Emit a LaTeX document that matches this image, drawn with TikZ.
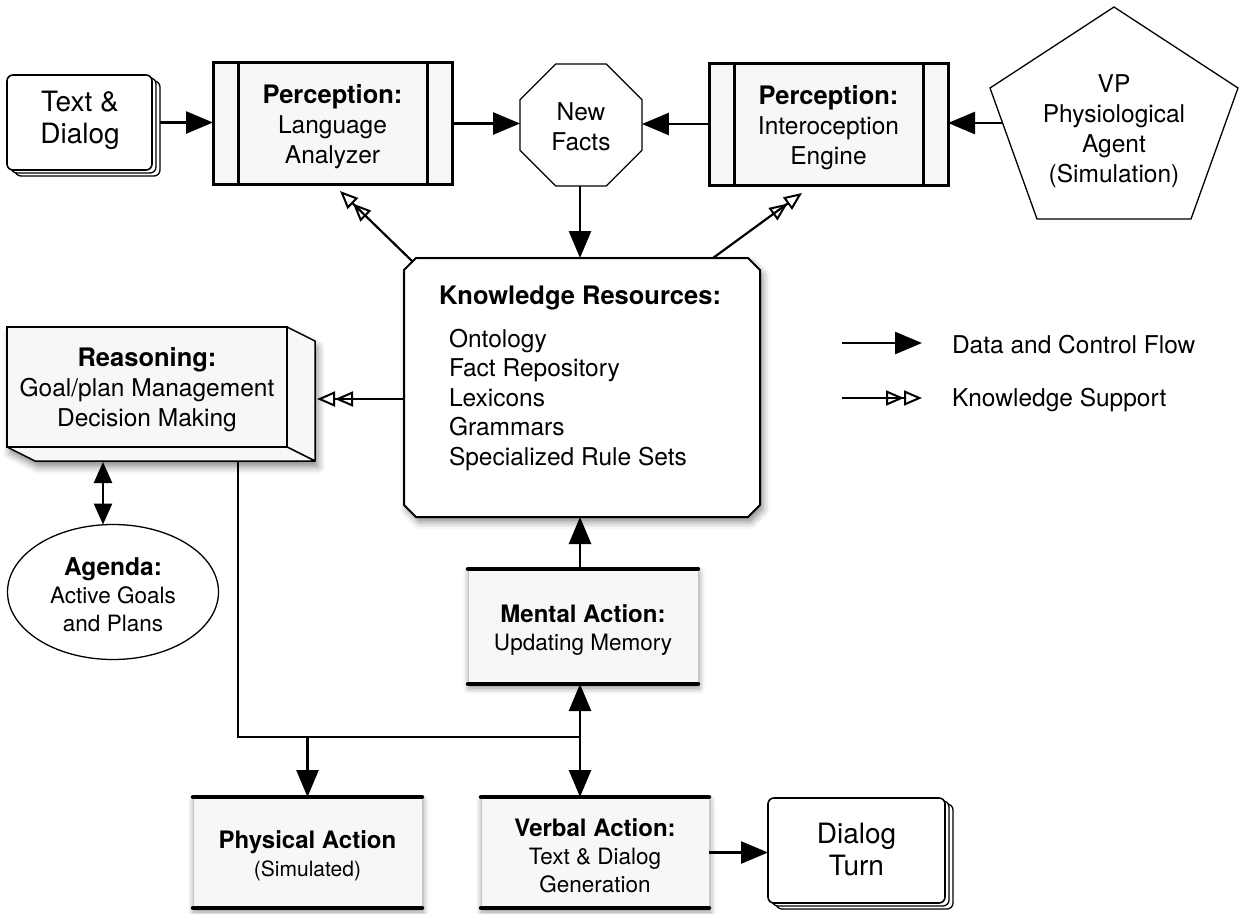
\documentclass[tikz,border=0pt]{standalone}
\usepackage{fontspec}
\setmainfont{TeX Gyre Heros}
\usetikzlibrary{arrows.meta,shapes.geometric,shadows,shadows.blur,calc}
\definecolor{boxfill}{HTML}{F6F7F7}
\newcommand\boldhead[2][25.5]{{\fontsize{#1}{30}\selectfont\bfseries #2}}
\tikzset{
  every node/.style={inner sep=0pt, outer sep=0pt},
  bigtxt/.style={font=\fontsize{28}{32}\selectfont, align=center},
  txt/.style={font=\fontsize{24.5}{30}\selectfont, align=center},
  smalltxt/.style={font=\fontsize{22.5}{28}\selectfont, align=center},
  conn/.style={line width=2.6pt, draw=black},
  solidtip/.style={Triangle[length=27pt,width=22pt,fill=black,color=black]},
  flow/.style={conn, -{Triangle[length=27pt,width=22pt,fill=black,color=black]}},
  flowboth/.style={conn, {Triangle[length=27pt,width=22pt,fill=black,color=black]}-{Triangle[length=27pt,width=22pt,fill=black,color=black]}},
  flowsmall/.style={conn, {Triangle[length=21pt,width=18pt,fill=black,color=black]}-{Triangle[length=21pt,width=18pt,fill=black,color=black]}},
  ksupport/.style={line width=2.2pt, draw=black,
    -{Triangle[open,length=18pt,width=15pt,line width=2pt]Triangle[open,length=18pt,width=15pt,line width=2pt]}},
  stackbox/.style={draw, line width=1.6pt, fill=white, rounded corners=6pt,
    double copy shadow={shadow xshift=4pt, shadow yshift=-3pt, draw, line width=1.3pt, fill=white}, bigtxt},
  procbox/.style={draw, line width=3pt, fill=boxfill, minimum width=239pt, minimum height=122pt, txt,
    path picture={
      \draw[line width=3pt] ([xshift=25pt]path picture bounding box.north west) -- ([xshift=25pt]path picture bounding box.south west);
      \draw[line width=3pt] ([xshift=-25pt]path picture bounding box.north east) -- ([xshift=-25pt]path picture bounding box.south east);}},
  actbox/.style={draw=gray!45, line width=0.8pt, fill=boxfill, smalltxt,
    blur shadow={shadow xshift=1pt, shadow yshift=-4pt, shadow blur radius=6pt, shadow opacity=45}},
  thinshape/.style={draw=black, line width=1.3pt, fill=white, txt},
}
\begin{document}
\begin{tikzpicture}[x=1pt,y=-1pt]
\useasboundingbox (0,0) rectangle (1239,913);

% ---------- top row ----------
\node[stackbox, minimum width=145pt, minimum height=95pt] (td) at (79.5,122.5) {};
\node[bigtxt] (tdtext) at (80,120) {Text \&\\Dialog};
\node[procbox] (la) at (332.5,123.5) {};
\node[txt] (latext) at (332.5,127) {\boldhead{Perception:}\\Language\\Analyzer};
\node[thinshape, regular polygon, regular polygon sides=8, minimum size=132pt] (nf) at (581,125) {};
\node[txt] (nftext) at (581,127) {New\\Facts};
\node[procbox] (ie) at (828.5,124) {};
\node[txt] (ietext) at (828.5,127.5) {\boldhead{Perception:}\\Interoception\\Engine};

% physiological agent (pentagon)
\draw[line width=1.3pt, fill=white] (1114,7) -- (1238,88) -- (1191,219) -- (1037,219) -- (990,88) -- cycle;
\node[txt] (vp) at (1114,131) {VP\\Physiological\\Agent\\(Simulation)};
\coordinate (vpin) at (1002,123);

% ---------- knowledge resources ----------
\node[minimum width=356pt, minimum height=259pt] (kr) at (582,387.5) {};
\draw[line width=2pt, fill=white,
      blur shadow={shadow xshift=3pt, shadow yshift=-5pt, shadow blur radius=7pt, shadow opacity=45}]
  ([xshift=12pt]kr.north west) -- ([xshift=-12pt]kr.north east) -- ([yshift=-12pt]kr.north east)
  -- ([yshift=12pt]kr.south east) -- ([xshift=-12pt]kr.south east) -- ([xshift=12pt]kr.south west)
  -- ([yshift=12pt]kr.south west) -- ([yshift=-12pt]kr.north west) -- cycle;
\node[font=\fontsize{25.5}{30}\selectfont\bfseries] (krtitle) at (580,298) {Knowledge Resources:};
\node[font=\fontsize{24.5}{29.5}\selectfont, align=left, anchor=west] (krlist) at (449,400)
  {Ontology\\Fact Repository\\Lexicons\\Grammars\\Specialized Rule Sets};

% ---------- reasoning (3-D box) ----------
\path[fill=white, blur shadow={shadow xshift=3pt, shadow yshift=-6pt, shadow blur radius=7pt, shadow opacity=45}]
  (7,327) -- (287,327) -- (315,341) -- (315,461) -- (35,461) -- (7,447) -- cycle;
\node[draw, line width=1.5pt, fill=boxfill, minimum width=280pt, minimum height=120pt] (reason) at (147,387) {};
\node[txt] (reasontext) at (147,390) {\boldhead{Reasoning:}\\Goal/plan Management\\Decision Making};
\draw[line width=1.5pt, fill=boxfill, line join=round]
  (reason.north east) -- ($(reason.north east)+(28,14)$) -- ($(reason.south east)+(28,14)$) -- (reason.south east) -- cycle;
\draw[line width=1.5pt, fill=boxfill, line join=round]
  (reason.south west) -- ($(reason.south west)+(28,14)$) -- ($(reason.south east)+(28,14)$) -- (reason.south east) -- cycle;
\coordinate (rside) at (317,399);
\coordinate (rbot) at (238,461);
\coordinate (ragenda) at (103,462);

% ---------- agenda ----------
\node[thinshape, ellipse, minimum width=211pt, minimum height=135pt] (agenda) at (113,592) {};
\node[smalltxt] (agendatext) at (113,595) {\boldhead[24.5]{Agenda:}\\Active Goals\\and Plans};

% ---------- actions ----------
\node[actbox, minimum width=230pt, minimum height=115pt] (mental) at (583,626.5) {};
\node[smalltxt] (mentaltext) at (583,630) {\boldhead[24]{Mental Action:}\\Updating Memory};
\node[actbox, minimum width=229pt, minimum height=111pt] (phys) at (307.5,852.5) {};
\node[smalltxt] (phystext) at (307.5,856) {\boldhead[24]{Physical Action}\\{\fontsize{21}{26}\selectfont (Simulated)}};
\node[actbox, minimum width=228pt, minimum height=111pt] (verbal) at (595,852.5) {};
\node[smalltxt] (verbaltext) at (595,856) {\boldhead[24]{Verbal Action:}\\Text \& Dialog\\Generation};
\foreach \n in {mental,phys,verbal}
  \draw[line width=4.5pt, line cap=round] (\n.north west) -- (\n.north east) (\n.south west) -- (\n.south east);
\node[stackbox, minimum width=177pt, minimum height=105pt] (dt) at (856.5,850.5) {};
\node[bigtxt] (dttext) at (856.5,849) {Dialog\\Turn};
\coordinate (jn) at (580,737);

% ---------- legend ----------
\coordinate (lga) at (842,343);
\coordinate (lgb) at (922,343);
\coordinate (lgc) at (842,398);
\coordinate (lgd) at (922,398);
\node[txt, anchor=west] (lgflow) at (952,345) {Data and Control Flow};
\node[txt, anchor=west] (lgks) at (952,400) {Knowledge Support};

% ---------- data and control flow ----------
\draw[flow] ([xshift=8pt]td.east) -- (td.east -| la.west);
\draw[flow] (la.east) -- (la.east -| nf.west);
\draw[flow] (ie.west) -- (ie.west -| nf.east);
\draw[flow] (vpin) -- (vpin -| ie.east);
\draw[flow] (nf.south -| jn) -- (jn |- kr.north);
\draw[flow] (jn |- mental.north) -- (jn |- kr.south);
\draw[flowboth] (jn |- mental.south) -- (jn |- verbal.north);
\draw[conn] (rbot) |- (jn);
\draw[flow] (phys.north |- jn) -- (phys.north);
\draw[flow] (verbal.east) -- (verbal.east -| dt.west);
\draw[flowsmall] (ragenda) -- (ragenda |- agenda.north);
\draw[flow] (lga) -- (lgb);

% ---------- knowledge support ----------
\coordinate (kra) at (413,262);
\coordinate (lak) at (340,191);
\coordinate (krb) at (713,258);
\coordinate (iek) at (802,193);
\draw[ksupport] (kra) -- (lak);
\draw[ksupport] (krb) -- (iek);
\draw[ksupport] (kr.west |- rside) -- (rside);
\draw[ksupport] (lgc) -- (lgd);
\end{tikzpicture}
\end{document}
